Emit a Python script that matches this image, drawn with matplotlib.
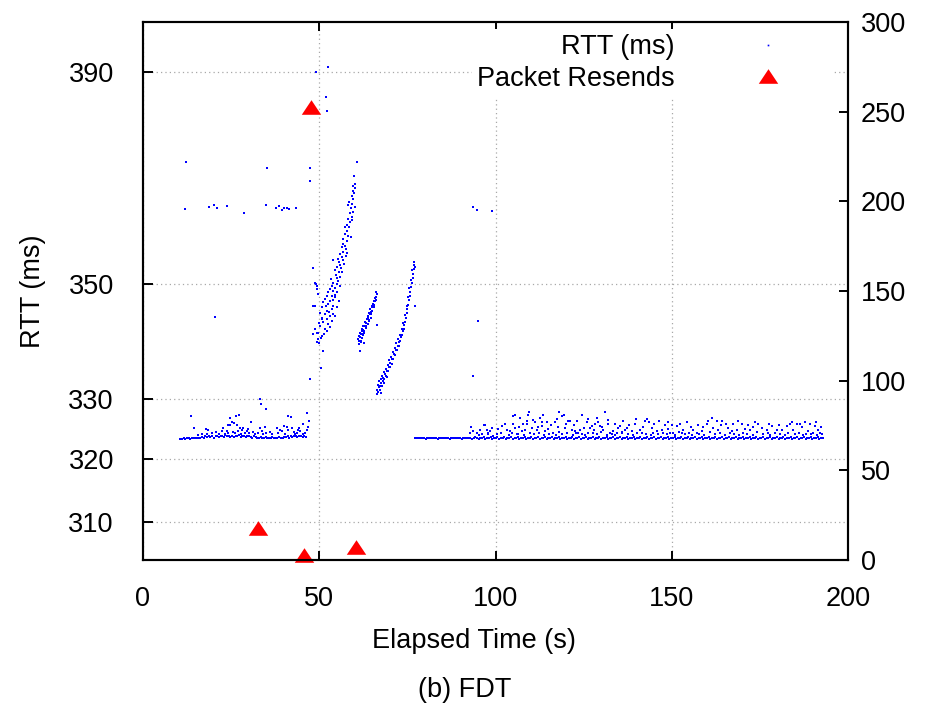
import numpy as np
import matplotlib
matplotlib.use('Agg')
import matplotlib.pyplot as plt
from matplotlib import font_manager as fm
from matplotlib.ticker import FixedLocator, NullLocator, FixedFormatter
from matplotlib.path import Path

# ---------------- data ----------------
# RTT samples: (elapsed time s, RTT ms)
EARLY_BASE = [
    (10.6, 323.3), (11.1, 323.4), (11.5, 323.5), (12.0, 323.4), (12.5, 323.5), (13.0, 323.6), (13.4, 323.4),
    (13.9, 323.5), (14.4, 323.5), (14.9, 323.6), (15.3, 323.5), (15.8, 323.6), (16.3, 323.5), (16.8, 323.7),
    (17.2, 323.6), (17.7, 323.8), (18.2, 323.7), (18.7, 323.9), (19.1, 323.7), (19.6, 323.8), (20.1, 323.6),
    (20.6, 323.9), (21.0, 323.8), (21.5, 323.7), (22.0, 323.9), (22.5, 323.8), (22.9, 323.7), (23.4, 324.0),
    (23.9, 323.8), (24.4, 323.9), (24.8, 323.7), (25.3, 323.8), (25.8, 323.7), (26.3, 323.9), (26.7, 323.8),
    (27.2, 324.0), (27.7, 323.7), (28.2, 323.8), (28.6, 323.9), (29.1, 323.7), (29.6, 323.8), (30.1, 323.9),
    (30.5, 323.7), (31.0, 323.6), (31.5, 323.8), (32.0, 323.7), (32.4, 323.6), (32.9, 323.6), (33.4, 323.7),
    (33.9, 323.5), (34.3, 323.6), (34.8, 323.7), (35.3, 323.6), (35.8, 323.5), (36.2, 323.6), (36.7, 323.7),
    (37.2, 323.5), (37.7, 323.6), (38.1, 323.6), (38.6, 323.7), (39.1, 323.6), (39.6, 323.5), (40.0, 323.7),
    (40.5, 323.7), (41.0, 323.8), (41.5, 323.6), (41.9, 323.8), (42.4, 323.7), (42.9, 323.9), (43.4, 323.8),
    (43.8, 323.7), (44.3, 323.9), (44.8, 323.8), (45.3, 323.7), (45.7, 323.8), (46.2, 323.7),
]
EARLY_SCATTER = [
    (13.6, 327.2), (14.5, 325.2), (17.9, 325.0), (18.5, 324.8), (18.2, 324.2), (23.3, 324.1), (23.7, 324.7),
    (24.7, 325.6), (24.2, 325.6), (24.7, 326.9), (25.2, 326.2), (25.9, 326.0), (26.3, 327.2), (27.2, 327.3),
    (26.6, 325.6), (27.5, 325.2), (28.0, 324.8), (28.5, 325.1), (30.6, 326.1), (33.2, 330.0), (33.5, 329.1),
    (34.9, 328.3), (33.2, 325.2), (34.5, 325.3), (33.9, 324.6), (37.9, 325.1), (39.9, 325.5), (41.2, 327.1),
    (42.0, 327.0), (42.4, 325.2), (41.2, 324.8), (43.1, 324.1), (44.3, 325.1), (45.4, 325.9), (46.6, 327.6),
    (47.1, 326.3), (45.5, 324.1), (19.5, 324.3), (20.8, 324.5), (21.6, 324.2), (22.3, 324.6), (24.0, 324.4),
    (25.5, 324.5), (26.0, 324.3), (26.9, 324.6), (27.8, 324.2), (28.9, 324.4), (29.4, 324.7), (30.2, 324.3),
    (31.3, 324.5), (31.8, 324.2), (32.5, 324.4), (34.0, 324.2), (35.0, 324.3), (36.0, 324.5), (36.5, 324.1),
    (38.4, 324.3), (39.4, 324.6), (40.3, 324.2), (42.7, 324.5), (43.6, 324.3), (44.6, 324.6), (45.9, 324.4),
    (46.4, 324.9), (46.9, 325.3), (15.5, 324.0), (16.6, 324.2), (22.8, 325.1), (29.9, 325.0), (38.9, 324.9),
    (40.8, 325.3), (44.0, 324.8),
]
OUTLIERS = [
    (11.8, 363.6), (12.1, 372.5), (18.6, 364.0), (20.0, 364.4), (21.0, 363.8), (23.8, 364.1), (28.7, 362.9),
    (34.8, 364.4), (35.1, 371.2), (37.7, 363.8), (38.7, 364.1), (39.3, 363.5), (40.0, 363.8), (40.8, 363.8),
    (41.5, 363.7), (43.4, 363.8), (20.4, 344.1), (47.4, 371.2), (47.4, 368.9), (49.0, 390.0), (52.4, 390.9),
    (51.8, 385.0), (52.1, 382.2), (47.4, 333.4), (50.4, 335.3), (48.3, 352.9), (93.5, 364.0), (94.8, 363.5),
    (98.9, 363.2), (93.6, 334.0), (95.0, 343.4), (66.3, 342.8), (77.2, 346.0),
]
RAMP1 = [
    (60.6, 372.4), (59.9, 369.8), (60.1, 368.3), (59.7, 367.9), (59.5, 367.0), (59.9, 366.6), (59.2, 366.0),
    (59.7, 365.4), (58.5, 364.9), (59.2, 364.6), (58.2, 364.3), (59.7, 363.1), (58.7, 362.8), (59.2, 362.2),
    (58.2, 361.8), (58.7, 361.2), (57.8, 360.6), (58.5, 360.3), (57.3, 360.3), (57.8, 359.6), (57.3, 359.0),
    (58.2, 358.7), (56.8, 358.1), (57.8, 357.8), (56.6, 357.2), (57.3, 356.9), (57.6, 356.3), (56.4, 356.6),
    (56.8, 355.7), (55.9, 355.4), (56.4, 354.8), (55.4, 354.5), (56.8, 354.2), (55.7, 353.9), (53.8, 354.2),
    (55.9, 353.3), (55.1, 353.0), (54.5, 352.4), (55.7, 352.1), (54.8, 351.5), (56.4, 352.1), (54.0, 350.2),
    (54.9, 349.9), (55.9, 349.6), (54.5, 349.3), (53.5, 349.6), (53.0, 349.1), (54.0, 348.8), (55.1, 348.5),
    (52.6, 348.5), (52.1, 347.9), (53.5, 347.9), (54.5, 347.6), (55.7, 347.0), (53.0, 347.0), (51.6, 347.3),
    (51.2, 346.7), (52.6, 346.4), (54.0, 346.1), (54.9, 345.8), (53.5, 345.5), (52.1, 345.2), (50.7, 345.8),
    (50.2, 344.9), (51.6, 344.6), (53.0, 344.3), (54.5, 344.3), (48.8, 346.1), (48.3, 346.0), (49.7, 348.2),
    (49.4, 349.1), (49.1, 349.9), (50.7, 343.7), (51.2, 343.2), (52.6, 342.9), (53.5, 343.4), (50.2, 342.6),
    (48.8, 342.0), (51.6, 342.0), (53.0, 342.3), (49.3, 341.4), (48.3, 341.1), (50.7, 340.8), (52.1, 341.7),
    (49.7, 340.2), (49.3, 339.8), (50.5, 340.5), (51.0, 338.2), (49.7, 341.4), (54.0, 344.6), (48.8, 350.2),
    (49.3, 349.6), (51.9, 346.0), (52.9, 345.0), (50.9, 344.0), (53.9, 347.2), (52.3, 343.8), (49.9, 343.0),
    (51.4, 341.2), (50.0, 339.5), (54.6, 348.0), (55.4, 350.5), (53.2, 350.8), (56.0, 351.2), (57.0, 353.5),
    (58.0, 355.5), (58.9, 358.5), (59.4, 361.5), (60.2, 364.0), (60.0, 367.5), (59.0, 363.8), (57.5, 355.0),
    (56.1, 352.8), (55.0, 351.0),
]
RAMP2 = [
    (66.3, 348.2), (66.0, 347.6), (65.8, 347.0), (65.3, 346.4), (64.9, 346.1), (65.6, 345.8), (64.4, 345.5),
    (65.0, 345.2), (64.4, 344.6), (63.9, 344.3), (64.7, 344.0), (63.5, 343.7), (64.1, 343.4), (63.0, 343.2),
    (63.7, 342.9), (62.5, 342.6), (63.2, 342.2), (62.0, 342.0), (62.8, 341.7), (61.6, 341.4), (62.5, 341.1),
    (61.3, 340.8), (62.0, 340.5), (61.1, 340.2), (61.8, 339.8), (61.3, 339.4), (61.6, 338.2), (62.8, 339.5),
    (62.2, 341.7), (66.1, 348.6), (65.7, 347.4), (65.5, 346.9), (65.1, 345.9), (64.6, 345.0), (64.2, 344.9),
    (63.8, 343.9), (63.3, 343.0), (62.9, 342.5), (62.4, 341.9), (61.9, 341.2), (61.5, 340.6), (61.2, 339.9),
    (61.9, 339.9), (62.3, 340.9), (62.7, 341.4), (63.4, 342.5), (64.0, 343.6), (64.7, 344.7), (65.4, 346.2),
    (66.2, 347.2),
]
RAMP3 = [
    (66.5, 330.8), (66.4, 331.6), (66.7, 331.2), (66.9, 332.0), (66.6, 332.4), (67.1, 331.5), (67.3, 332.3),
    (67.0, 333.0), (67.5, 332.8), (67.8, 332.2), (67.6, 333.4), (68.0, 333.0), (68.2, 333.6), (67.9, 334.0),
    (68.5, 333.4), (68.7, 334.2), (68.4, 334.6), (69.0, 334.0), (69.2, 334.7), (68.9, 335.1), (69.5, 334.8),
    (69.7, 335.4), (69.4, 335.8), (70.0, 335.5), (70.2, 336.2), (69.9, 336.6), (70.5, 336.0), (70.7, 336.8),
    (70.4, 337.2), (71.0, 336.9), (71.2, 337.6), (70.9, 338.0), (71.5, 337.5), (71.7, 338.3), (71.4, 338.7),
    (72.0, 338.4), (72.2, 339.1), (71.9, 339.5), (72.5, 339.0), (72.7, 339.8), (72.4, 340.2), (73.0, 339.9),
    (73.2, 340.6), (72.9, 341.0), (73.5, 340.9), (73.7, 341.7), (73.4, 342.1), (74.0, 342.0), (74.1, 342.8),
    (73.8, 343.1), (74.4, 343.3), (74.6, 344.0), (74.3, 344.4), (74.9, 344.8), (75.0, 345.6), (74.8, 346.0),
    (75.3, 346.3), (75.4, 347.1), (75.2, 347.6), (75.7, 347.9), (75.8, 348.6), (75.6, 349.2), (76.1, 349.4),
    (76.2, 350.1), (76.0, 350.7), (76.5, 351.0), (76.6, 351.8), (76.4, 352.4), (76.9, 352.6), (77.0, 353.4),
    (76.8, 353.9), (77.1, 353.0), (68.3, 332.7), (67.4, 331.1), (69.3, 333.7),
]
LATE_BASE = [
    (77.3, 323.5), (77.8, 323.6), (78.3, 323.5), (78.7, 323.5), (79.2, 323.6), (79.7, 323.5), (80.2, 323.4), (80.7, 323.5), (81.2, 323.6), (81.7, 323.5),
    (82.2, 323.5), (82.6, 323.6), (83.1, 323.5), (83.6, 323.4), (84.1, 323.5), (84.6, 323.6), (85.1, 323.5), (85.5, 323.5), (86.0, 323.6), (86.5, 323.5),
    (87.0, 323.4), (87.5, 323.5), (88.0, 323.6), (88.4, 323.5), (88.9, 323.5), (89.4, 323.6), (89.9, 323.5), (90.4, 323.4), (90.9, 323.5), (91.3, 323.6),
    (91.8, 323.5), (92.3, 323.5), (92.8, 323.6), (93.3, 323.4), (93.8, 323.5), (94.2, 323.7), (94.7, 323.5), (95.2, 323.4), (95.7, 323.6), (96.2, 323.5),
    (96.7, 323.7), (97.1, 323.4), (97.6, 323.6), (98.1, 323.5), (98.6, 323.7), (99.1, 323.4), (99.6, 323.6), (100.0, 323.5), (100.5, 323.7), (101.0, 323.4),
    (101.5, 323.6), (102.0, 323.5), (102.5, 323.7), (102.9, 323.4), (103.4, 323.6), (103.9, 323.5), (104.4, 323.7), (104.9, 323.4), (105.4, 323.6), (105.8, 323.5),
    (106.3, 323.7), (106.8, 323.4), (107.3, 323.6), (107.8, 323.5), (108.3, 323.7), (108.7, 323.4), (109.2, 323.6), (109.7, 323.5), (110.2, 323.7), (110.7, 323.4),
    (111.2, 323.6), (111.6, 323.5), (112.1, 323.7), (112.6, 323.4), (113.1, 323.6), (113.6, 323.5), (114.1, 323.7), (114.5, 323.4), (115.0, 323.6), (115.5, 323.5),
    (116.0, 323.7), (116.5, 323.4), (117.0, 323.6), (117.4, 323.5), (117.9, 323.7), (118.4, 323.4), (118.9, 323.6), (119.4, 323.5), (119.9, 323.7), (120.3, 323.4),
    (120.8, 323.6), (121.3, 323.5), (121.8, 323.7), (122.3, 323.4), (122.8, 323.6), (123.2, 323.5), (123.7, 323.7), (124.2, 323.4), (124.7, 323.6), (125.2, 323.5),
    (125.7, 323.7), (126.1, 323.4), (126.6, 323.6), (127.1, 323.5), (127.6, 323.7), (128.1, 323.4), (128.6, 323.6), (129.0, 323.5), (129.5, 323.7), (130.0, 323.4),
    (130.5, 323.6), (131.0, 323.5), (131.5, 323.7), (131.9, 323.4), (132.4, 323.6), (132.9, 323.5), (133.4, 323.7), (133.9, 323.4), (134.4, 323.6), (134.8, 323.5),
    (135.3, 323.7), (135.8, 323.4), (136.3, 323.6), (136.8, 323.5), (137.3, 323.7), (137.7, 323.4), (138.2, 323.6), (138.7, 323.5), (139.2, 323.7), (139.7, 323.4),
    (140.2, 323.6), (140.6, 323.5), (141.1, 323.7), (141.6, 323.4), (142.1, 323.6), (142.6, 323.5), (143.1, 323.7), (143.5, 323.4), (144.0, 323.6), (144.5, 323.5),
    (145.0, 323.7), (145.5, 323.4), (146.0, 323.6), (146.4, 323.5), (146.9, 323.7), (147.4, 323.4), (147.9, 323.6), (148.4, 323.5), (148.9, 323.7), (149.3, 323.4),
    (149.8, 323.6), (150.3, 323.5), (150.8, 323.7), (151.3, 323.4), (151.8, 323.6), (152.2, 323.5), (152.7, 323.7), (153.2, 323.4), (153.7, 323.6), (154.2, 323.5),
    (154.7, 323.7), (155.1, 323.4), (155.6, 323.6), (156.1, 323.5), (156.6, 323.7), (157.1, 323.4), (157.6, 323.6), (158.0, 323.5), (158.5, 323.7), (159.0, 323.4),
    (159.5, 323.6), (160.0, 323.5), (160.5, 323.7), (160.9, 323.4), (161.4, 323.6), (161.9, 323.5), (162.4, 323.7), (162.9, 323.4), (163.4, 323.6), (163.8, 323.5),
    (164.3, 323.7), (164.8, 323.4), (165.3, 323.6), (165.8, 323.5), (166.3, 323.7), (166.7, 323.4), (167.2, 323.6), (167.7, 323.5), (168.2, 323.7), (168.7, 323.4),
    (169.2, 323.6), (169.6, 323.5), (170.1, 323.7), (170.6, 323.4), (171.1, 323.6), (171.6, 323.5), (172.1, 323.7), (172.5, 323.4), (173.0, 323.6), (173.5, 323.5),
    (174.0, 323.7), (174.5, 323.4), (175.0, 323.6), (175.4, 323.5), (175.9, 323.7), (176.4, 323.4), (176.9, 323.6), (177.4, 323.5), (177.9, 323.7), (178.3, 323.4),
    (178.8, 323.6), (179.3, 323.5), (179.8, 323.7), (180.3, 323.4), (180.8, 323.6), (181.2, 323.5), (181.7, 323.7), (182.2, 323.4), (182.7, 323.6), (183.2, 323.5),
    (183.7, 323.7), (184.1, 323.4), (184.6, 323.6), (185.1, 323.5), (185.6, 323.7), (186.1, 323.4), (186.6, 323.6), (187.0, 323.5), (187.5, 323.7), (188.0, 323.4),
    (188.5, 323.6), (189.0, 323.5), (189.5, 323.7), (189.9, 323.4), (190.4, 323.6), (190.9, 323.5), (191.4, 323.7), (191.9, 323.4), (192.4, 323.6), (192.9, 323.5),
]
LATE_SCATTER = [
    (93.0, 325.4), (92.8, 324.4), (93.7, 324.7), (94.7, 324.3), (95.6, 324.9), (96.1, 324.1), (96.6, 325.6),
    (97.0, 325.6), (97.5, 324.9), (98.0, 324.3), (98.4, 324.7), (98.9, 325.2), (99.4, 323.8), (102.7, 325.8),
    (103.2, 324.9), (104.1, 324.7), (105.0, 327.2), (105.5, 325.2), (106.0, 324.1), (106.9, 326.8), (107.4, 324.7),
    (107.9, 325.8), (108.4, 324.9), (108.8, 326.3), (109.3, 327.4), (109.8, 324.4), (110.3, 325.2), (111.2, 326.1),
    (111.7, 324.9), (112.6, 326.9), (113.1, 325.5), (113.6, 327.4), (114.0, 324.7), (114.5, 326.1), (109.5, 327.8),
    (105.6, 327.3), (118.1, 327.9), (116.9, 326.1), (117.5, 326.6), (118.8, 327.2), (119.4, 327.4), (120.7, 326.3),
    (121.1, 326.4), (119.7, 325.2), (121.6, 324.9), (122.6, 324.7), (124.6, 327.4), (124.0, 324.9), (125.9, 326.1),
    (126.8, 325.2), (127.3, 325.5), (128.7, 326.8), (128.2, 325.9), (129.6, 325.5), (131.1, 327.8), (130.6, 324.9),
    (132.0, 325.8), (133.4, 324.7), (135.3, 325.5), (136.7, 324.9), (137.2, 325.2), (138.6, 324.7), (139.6, 325.8),
    (141.0, 324.9), (142.4, 326.4), (143.1, 326.6), (143.6, 326.1), (144.3, 325.2), (145.7, 324.7), (147.1, 324.9),
    (148.1, 325.6), (149.0, 326.1), (151.4, 325.5), (153.3, 324.9), (154.2, 326.1), (116.4, 324.3), (120.2, 324.3),
    (123.5, 324.3), (127.7, 324.3), (132.5, 324.3), (134.4, 324.3), (135.8, 324.3), (140.1, 324.3), (144.8, 324.3),
    (147.6, 324.3), (150.4, 324.3), (152.8, 324.3), (161.3, 326.9), (160.4, 326.3), (159.9, 325.8), (162.8, 326.4),
    (164.2, 326.3), (165.4, 325.8), (161.8, 325.2), (163.2, 324.9), (166.0, 325.2), (167.0, 324.7), (168.4, 324.9),
    (169.8, 325.8), (170.8, 325.0), (172.2, 324.8), (173.6, 326.1), (174.6, 325.8), (175.5, 325.2), (176.9, 324.8),
    (178.4, 325.5), (179.8, 324.9), (181.2, 324.9), (182.6, 325.5), (183.5, 325.8), (184.5, 324.9), (185.4, 325.8),
    (186.4, 325.9), (187.8, 326.2), (188.7, 324.7), (190.6, 325.5), (191.6, 324.9), (156.1, 324.9), (157.1, 324.4),
    (158.5, 324.7), (95.3, 324.0), (97.9, 324.2), (100.3, 324.1), (101.6, 324.4), (103.8, 324.0), (104.6, 324.3),
    (106.5, 324.2), (108.0, 324.0), (110.9, 324.1), (112.3, 324.4), (113.9, 324.0), (115.3, 324.2), (117.2, 324.0),
    (118.0, 324.5), (119.0, 324.1), (121.9, 324.0), (122.9, 324.4), (124.4, 324.1), (125.5, 324.0), (126.2, 324.4),
    (128.9, 324.1), (129.9, 324.5), (131.6, 324.0), (133.0, 324.2), (134.0, 324.0), (136.0, 324.5), (137.7, 324.1),
    (139.0, 324.0), (141.5, 324.4), (142.8, 324.1), (144.0, 324.0), (146.2, 324.2), (148.6, 324.1), (149.5, 324.4),
    (151.0, 324.0), (152.0, 324.5), (153.8, 324.1), (155.0, 324.3), (155.8, 324.0), (157.8, 324.2), (159.2, 324.0),
    (160.8, 324.5), (162.3, 324.1), (163.8, 324.3), (165.0, 324.0), (166.6, 324.4), (167.8, 324.1), (169.2, 324.0),
    (170.2, 324.4), (171.4, 324.2), (173.0, 324.0), (174.1, 324.5), (175.9, 324.1), (177.3, 324.3), (178.0, 324.0),
    (179.3, 324.4), (180.6, 324.1), (182.1, 324.0), (183.1, 324.3), (184.9, 324.1), (186.0, 324.4), (187.2, 324.0),
    (188.2, 324.2), (189.4, 324.1), (190.1, 324.4), (191.2, 324.0), (192.1, 324.3), (192.6, 324.1),
    (100.8, 325.0), (101.9, 325.5), (104.9, 325.9), (106.6, 325.4), (109.0, 325.9), (110.6, 326.5), (112.0, 325.3),
    (113.3, 326.2), (115.0, 325.0), (115.8, 325.7), (117.8, 325.3), (120.0, 325.8), (122.2, 325.6), (123.2, 326.3),
    (125.0, 325.1), (126.3, 326.7), (128.0, 324.8), (129.2, 326.2), (130.3, 325.4), (131.8, 326.5), (133.8, 325.9),
    (134.8, 325.2), (136.2, 326.3), (138.0, 325.6), (139.9, 326.6), (141.9, 325.3), (144.9, 325.8), (146.5, 326.3),
    (148.8, 325.0), (150.1, 325.7), (152.3, 325.9), (155.4, 325.3), (157.5, 325.7), (158.9, 325.3), (163.9, 325.6),
    (167.4, 325.9), (168.9, 326.3), (171.6, 325.6), (173.1, 325.3), (177.6, 325.9), (180.4, 325.6), (184.0, 326.2),
    (186.9, 325.3), (189.1, 325.8), (190.9, 326.1), (192.3, 325.4),
]

# Packet resends (right axis)
RESEND_T = [32.6, 45.7, 47.7, 60.4]
RESEND_N = [17.8, 2.8, 252.6, 7.2]

LEFT_TICKS = [310, 320, 330, 350, 390]
RIGHT_TICKS = [0, 50, 100, 150, 200, 250, 300]
X_TICKS = [0, 50, 100, 150, 200]
SERIES_LABELS = ['RTT (ms)', 'Packet Resends']

# ---------------- fonts ----------------
def pick_font(names):
    for n in names:
        try:
            fm.findfont(fm.FontProperties(family=n), fallback_to_default=False)
            return n
        except Exception:
            continue
    return 'DejaVu Sans'

FONT = pick_font(['Liberation Sans Narrow', 'Liberation Sans'])
FS = 22.5 if FONT == 'Liberation Sans Narrow' else 19.5
plt.rcParams['font.family'] = [FONT, 'DejaVu Sans']
plt.rcParams['font.size'] = FS

# ---------------- figure ----------------
W, H = 927, 709
fig = plt.figure(figsize=(W / 100, H / 100), dpi=100)
ax = fig.add_axes([143 / W, 1 - 560 / H, 705 / W, 538 / H])
ax2 = ax.twinx()

rtt = np.array(EARLY_BASE + EARLY_SCATTER + OUTLIERS + RAMP1 + RAMP2 + RAMP3 + LATE_BASE + LATE_SCATTER)
h1, = ax.plot(rtt[:, 0], rtt[:, 1], linestyle='none', marker='s', markersize=2.0,
              markeredgewidth=0, color='#0000ff', label=SERIES_LABELS[0])

tri = Path([(-1, -0.75), (1, -0.75), (0, 0.75), (-1, -0.75)],
           [Path.MOVETO, Path.LINETO, Path.LINETO, Path.CLOSEPOLY])
h2, = ax2.plot(RESEND_T, RESEND_N, linestyle='none', marker=tri, markersize=14,
               markeredgewidth=0, color='#ff0000', clip_on=False, label=SERIES_LABELS[1])

# axes scales
ax.set_xlim(0, 200)
ax.set_yscale('log')
ax.set_ylim(304, 400)
ax2.set_ylim(0, 300)

ax.xaxis.set_major_locator(FixedLocator(X_TICKS))
ax.yaxis.set_major_locator(FixedLocator(LEFT_TICKS))
ax.yaxis.set_major_formatter(FixedFormatter([str(v) for v in LEFT_TICKS]))
ax.yaxis.set_minor_locator(NullLocator())
ax.xaxis.set_minor_locator(NullLocator())
ax2.yaxis.set_major_locator(FixedLocator(RIGHT_TICKS))
ax2.yaxis.set_minor_locator(NullLocator())

for a in (ax, ax2):
    for s in a.spines.values():
        s.set_linewidth(1.5)
        s.set_color('black')

ax.tick_params(axis='x', which='major', direction='in', length=6.5, width=1.4,
               top=True, bottom=True, labelsize=FS, pad=19)
ax.tick_params(axis='y', which='major', direction='in', length=7, width=1.4,
               left=True, right=False, labelsize=FS, pad=21)
ax2.tick_params(axis='y', which='major', direction='in', length=6.5, width=1.4,
                left=False, right=True, labelsize=FS, pad=9)

ax.grid(True, which='major', color='#a8a8a8', linestyle=(0, (1, 2.5)), linewidth=0.9)
ax.set_axisbelow(True)

ax.set_xlabel('Elapsed Time (s)', fontsize=FS)
ax.xaxis.set_label_coords((474 - 143) / 705, -0.127)
ax.set_ylabel('RTT (ms)', fontsize=FS)
ax.yaxis.set_label_coords((46 - 143) / 705, 0.5)

leg = ax2.legend([h1, h2], SERIES_LABELS, loc='upper right',
                 bbox_to_anchor=(832 / W, 1 - 29 / H), bbox_transform=fig.transFigure,
                 borderaxespad=0, borderpad=0.2, markerfirst=False, handlelength=4.3,
                 handletextpad=1.3, labelspacing=0.2, frameon=True, fancybox=False,
                 edgecolor='none', facecolor='white', framealpha=1, fontsize=FS)
leg.legend_handles[0].set_markersize(1.2)

fig.text(465 / W, 1 - 690 / H, '(b) FDT', ha='center', va='center', fontsize=FS)

fig.savefig('out.png', dpi=100)
